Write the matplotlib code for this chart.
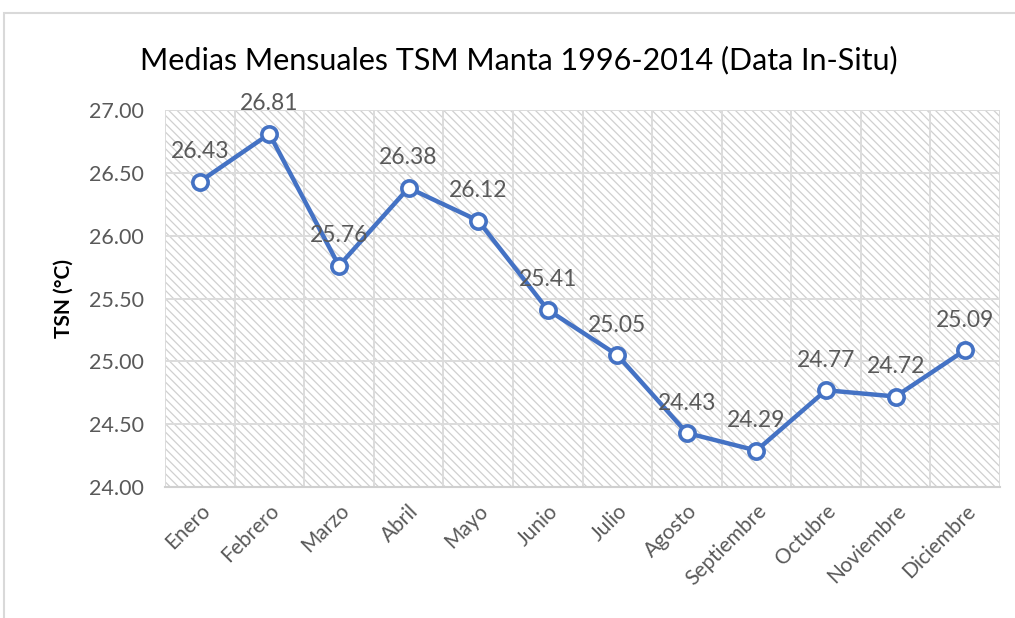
import numpy as np
import matplotlib.pyplot as plt
from matplotlib.patches import Rectangle

# datos
meses = ['Enero', 'Febrero', 'Marzo', 'Abril', 'Mayo', 'Junio', 'Julio',
         'Agosto', 'Septiembre', 'Octubre', 'Noviembre', 'Diciembre']
tsm = [26.43, 26.81, 25.76, 26.38, 26.12, 25.41, 25.05,
       24.43, 24.29, 24.77, 24.72, 25.09]
yticks = [24.0, 24.5, 25.0, 25.5, 26.0, 26.5, 27.0]

plt.rcParams['font.family'] = ['Lato', 'DejaVu Sans']
plt.rcParams['hatch.linewidth'] = 0.9

fig = plt.figure(figsize=(10.15, 6.18), dpi=100)
# marco exterior
fig.patches.append(Rectangle((4 / 1015, -0.1), 1.2, 1 - 13 / 618 + 0.1,
                             transform=fig.transFigure, fill=False,
                             edgecolor='#d9d9d9', linewidth=1.5))

ax = fig.add_axes([165 / 1015, 1 - 487 / 618, (1000 - 165) / 1015, (487 - 110) / 618])
ax.add_patch(Rectangle((0, 0), 1, 1, transform=ax.transAxes, facecolor='white',
                       edgecolor='#d0d0d0', hatch='\\\\\\\\', linewidth=0, zorder=0))

x = np.arange(len(meses))
ax.plot(x, tsm, color='#4472C4', linewidth=3.2, marker='o', markersize=11,
        markerfacecolor='white', markeredgecolor='#4472C4', markeredgewidth=2.6,
        zorder=3)
for xi, v in zip(x, tsm):
    ax.annotate(f'{v:.2f}', (xi, v), xytext=(0, 14), textcoords='offset points',
                ha='center', va='bottom', fontsize=16.5, color='#595959', zorder=4)

ax.set_xlim(-0.5, 11.5)
ax.set_ylim(24, 27)
ax.set_yticks(yticks)
ax.set_yticklabels([f'{t:.2f}' for t in yticks], fontsize=15.5, color='#595959')
ax.set_xticks(x)
ax.set_xticklabels(meses, rotation=45, ha='right', rotation_mode='anchor',
                   fontsize=15, color='#595959')
ax.set_xticks(np.arange(-0.5, 12, 1), minor=True)
ax.tick_params(which='both', length=0)
ax.tick_params(axis='x', pad=10)
ax.tick_params(axis='y', pad=15)
ax.grid(axis='y', which='major', color='#dcdcdc', linewidth=1.4)
ax.grid(axis='x', which='minor', color='#dcdcdc', linewidth=1.4)
ax.set_axisbelow(True)
for s in ['top', 'right', 'left']:
    ax.spines[s].set_visible(False)
ax.spines['bottom'].set_color('#d0d0d0')
ax.spines['bottom'].set_linewidth(1.5)

ax.set_ylabel('TSN (°C)', fontsize=15, fontweight='bold', labelpad=11)
fig.text(519 / 1015, 1 - 60 / 618, 'Medias Mensuales TSM Manta 1996-2014 (Data In-Situ)',
         ha='center', va='center', fontsize=22, color='black')

plt.savefig('out.png', dpi=100)
